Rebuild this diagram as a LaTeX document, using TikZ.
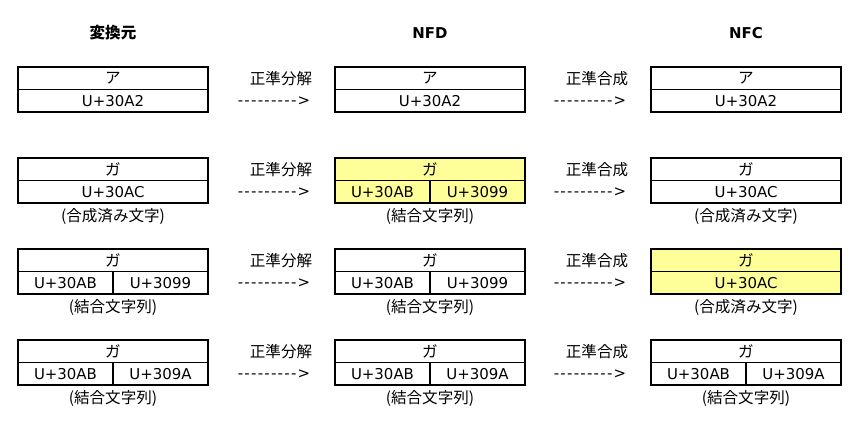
\documentclass[tikz,border=0pt]{standalone}
\usepackage{fontspec}
\setmainfont{DejaVu Sans}
\newfontfamily\jp{Noto Sans CJK JP}[Scale=1.04]
\usetikzlibrary{positioning}
\definecolor{hlyellow}{HTML}{FFFF99}
\newcommand{\dashtxt}{\foreach\i in {1,...,9}{-\kern1.25bp}>}
\tikzset{
  txt/.style={font=\fontsize{15}{18}\selectfont},
  cell/.style={txt, draw, line width=1.5bp, minimum width=190bp, minimum height=22.5bp, inner sep=0pt, outer sep=0pt},
  halfcell/.style={cell, minimum width=95bp},
  hl/.style={fill=hlyellow},
  note/.style={txt, inner sep=1bp},
  head/.style={font=\fontsize{15}{18}\selectfont\bfseries},
}

\begin{document}
\begin{tikzpicture}[x=1bp, y=-1bp]
    \useasboundingbox (0,0) rectangle (859,431);

    % column titles
    \node[head] (hsrc) at (113, 33) {\jp 変換元};
    \node[head] (hnfd) at (430, 33) {NFD};
    \node[head] (hnfc) at (746, 33) {NFC};

    % row 1
    \node[cell] (src1) at (113, 78.25) {\jp ア};
    \node[cell, below=0pt of src1] (src1c) {U+30A2};
    \node[cell] (nfd1) at (430, 78.25) {\jp ア};
    \node[cell, below=0pt of nfd1] (nfd1c) {U+30A2};
    \node[cell] (nfc1) at (746, 78.25) {\jp ア};
    \node[cell, below=0pt of nfc1] (nfc1c) {U+30A2};

    % row 2
    \node[cell] (src2) at (113, 169.25) {\jp ガ};
    \node[cell, below=0pt of src2] (src2c) {U+30AC};
    \node[note, below=4bp of src2c] (src2n) {\jp (合成済み文字)};
    \node[cell, hl] (nfd2) at (430, 169.25) {\jp ガ};
    \node[halfcell, hl, anchor=north west] (nfd2l) at (nfd2.south west) {U+30AB};
    \node[halfcell, hl, anchor=north east] (nfd2r) at (nfd2.south east) {U+3099};
    \node[note, below=4bp of nfd2.south |- nfd2l.south] (nfd2n) {\jp (結合文字列)};
    \node[cell] (nfc2) at (746, 169.25) {\jp ガ};
    \node[cell, below=0pt of nfc2] (nfc2c) {U+30AC};
    \node[note, below=4bp of nfc2c] (nfc2n) {\jp (合成済み文字)};

    % row 3
    \node[cell] (src3) at (113, 260.25) {\jp ガ};
    \node[halfcell, anchor=north west] (src3l) at (src3.south west) {U+30AB};
    \node[halfcell, anchor=north east] (src3r) at (src3.south east) {U+3099};
    \node[note, below=4bp of src3.south |- src3l.south] (src3n) {\jp (結合文字列)};
    \node[cell] (nfd3) at (430, 260.25) {\jp ガ};
    \node[halfcell, anchor=north west] (nfd3l) at (nfd3.south west) {U+30AB};
    \node[halfcell, anchor=north east] (nfd3r) at (nfd3.south east) {U+3099};
    \node[note, below=4bp of nfd3.south |- nfd3l.south] (nfd3n) {\jp (結合文字列)};
    \node[cell, hl] (nfc3) at (746, 260.25) {\jp ガ};
    \node[cell, hl, below=0pt of nfc3] (nfc3c) {U+30AC};
    \node[note, below=4bp of nfc3c] (nfc3n) {\jp (合成済み文字)};

    % row 4
    \node[cell] (src4) at (113, 351.25) {\jp ガ};
    \node[halfcell, anchor=north west] (src4l) at (src4.south west) {U+30AB};
    \node[halfcell, anchor=north east] (src4r) at (src4.south east) {U+309A};
    \node[note, below=4bp of src4.south |- src4l.south] (src4n) {\jp (結合文字列)};
    \node[cell] (nfd4) at (430, 351.25) {\jp ガ};
    \node[halfcell, anchor=north west] (nfd4l) at (nfd4.south west) {U+30AB};
    \node[halfcell, anchor=north east] (nfd4r) at (nfd4.south east) {U+309A};
    \node[note, below=4bp of nfd4.south |- nfd4l.south] (nfd4n) {\jp (結合文字列)};
    \node[cell] (nfc4) at (746, 351.25) {\jp ガ};
    \node[halfcell, anchor=north west] (nfc4l) at (nfc4.south west) {U+30AB};
    \node[halfcell, anchor=north east] (nfc4r) at (nfc4.south east) {U+309A};
    \node[note, below=4bp of nfc4.south |- nfc4l.south] (nfc4n) {\jp (結合文字列)};

    % step labels between the columns
    \node[txt] (dec1) at (281, 78.25) {\jp 正準分解};
    \node[txt] (dec1a) at (274, 100.75) {\dashtxt};
    \node[txt] (comp1) at (597, 78.25) {\jp 正準合成};
    \node[txt] (comp1a) at (590, 100.75) {\dashtxt};
    \node[txt] (dec2) at (281, 169.25) {\jp 正準分解};
    \node[txt] (dec2a) at (274, 191.75) {\dashtxt};
    \node[txt] (comp2) at (597, 169.25) {\jp 正準合成};
    \node[txt] (comp2a) at (590, 191.75) {\dashtxt};
    \node[txt] (dec3) at (281, 260.25) {\jp 正準分解};
    \node[txt] (dec3a) at (274, 282.75) {\dashtxt};
    \node[txt] (comp3) at (597, 260.25) {\jp 正準合成};
    \node[txt] (comp3a) at (590, 282.75) {\dashtxt};
    \node[txt] (dec4) at (281, 351.25) {\jp 正準分解};
    \node[txt] (dec4a) at (274, 373.75) {\dashtxt};
    \node[txt] (comp4) at (597, 351.25) {\jp 正準合成};
    \node[txt] (comp4a) at (590, 373.75) {\dashtxt};
\end{tikzpicture}
\end{document}
